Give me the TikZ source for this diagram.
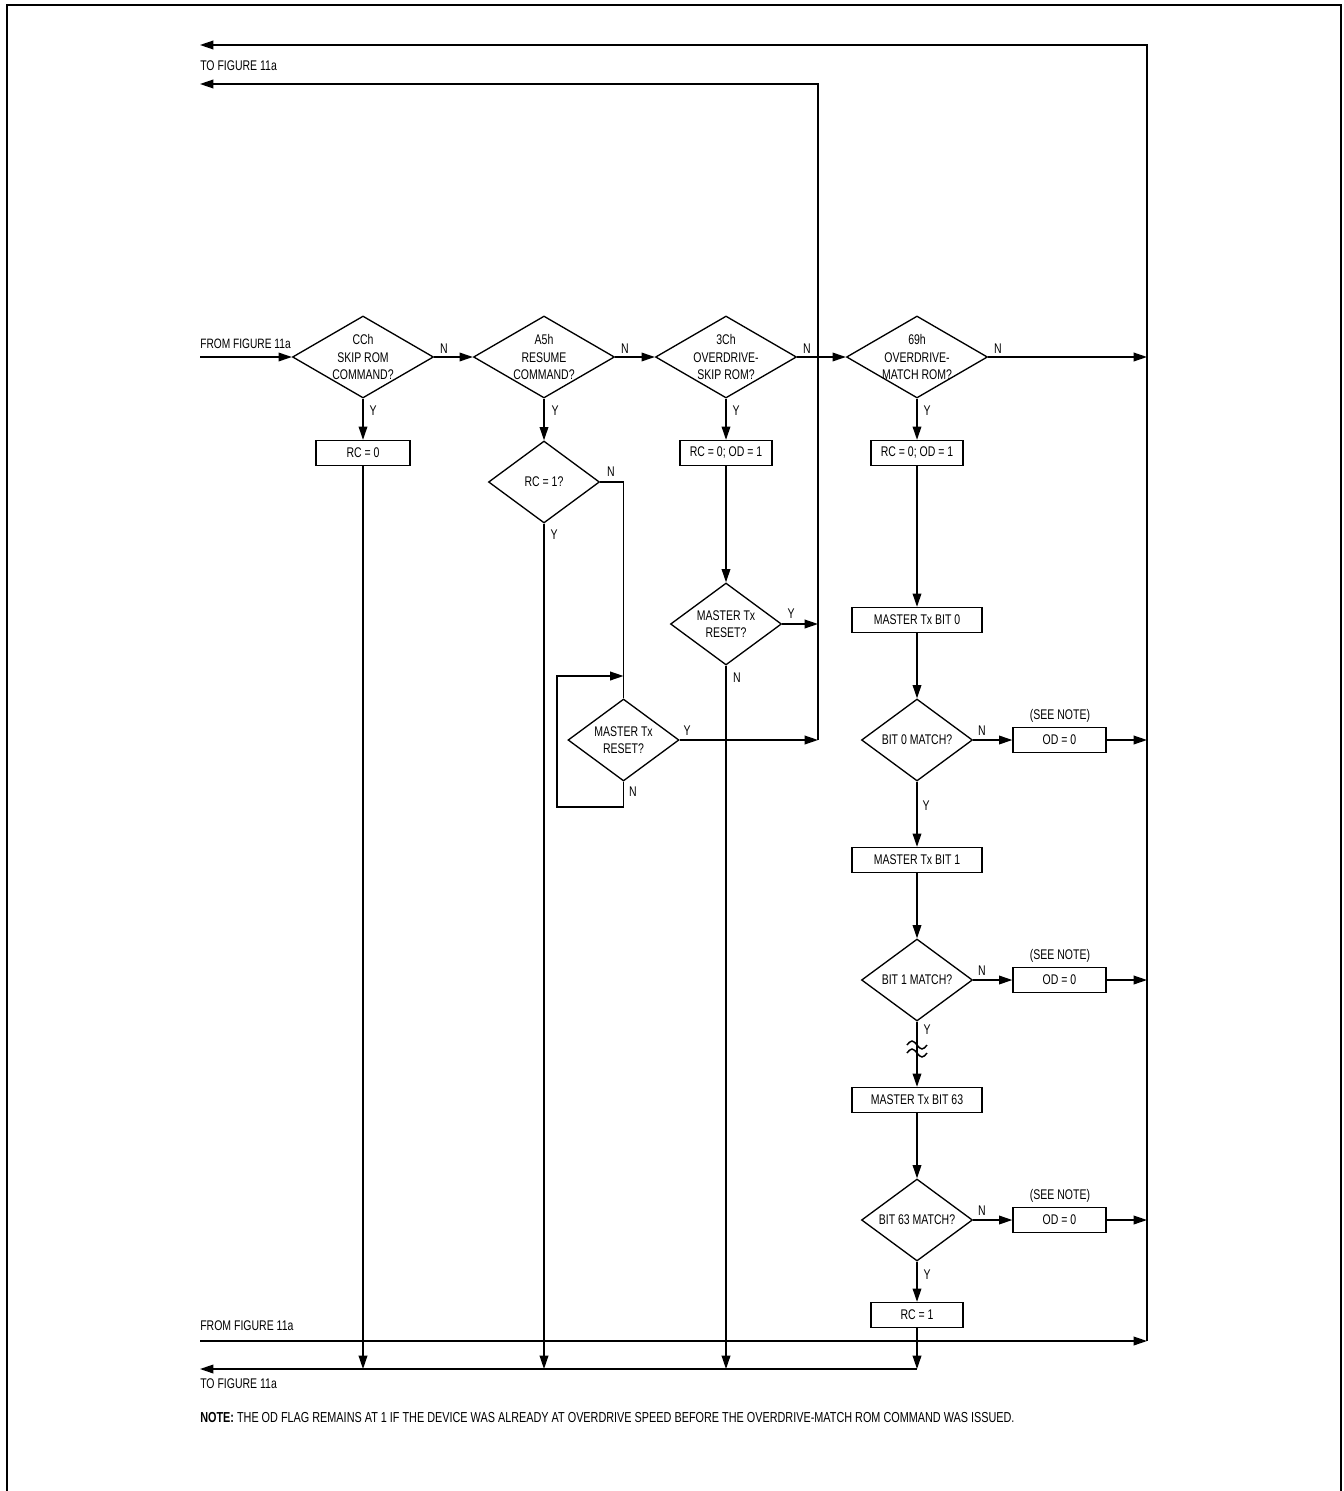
\documentclass[tikz,border=0pt]{standalone}
\usepackage{fontspec}
\setmainfont[FakeStretch=0.75]{Liberation Sans}
\usetikzlibrary{shapes.geometric,arrows.meta}
\begin{document}
\begin{tikzpicture}[x=0.75pt,y=-0.75pt,
  every node/.style={font=\fontsize{10.5}{13}\selectfont},
  ln/.style={line width=1.1pt},
  arr/.style={ln,-{Triangle[length=10pt,width=6.5pt]}},
  bigd/.style={diamond,draw,line width=1pt,minimum width=105.75pt,minimum height=61.5pt,inner sep=0pt},
  smd/.style={diamond,draw,line width=1pt,minimum width=83.25pt,minimum height=61.5pt,inner sep=0pt},
  box/.style={rectangle,draw,line width=1pt,minimum height=18.75pt,inner sep=0pt},
  lbl/.style={inner sep=0pt},
  txt/.style={inner sep=0pt,anchor=west},
]
\useasboundingbox (0,0) rectangle (1344,1491);
% frame
\draw[line width=1.6pt] (7,1491) -- (7,5) -- (1341,5) -- (1341,1491);

% top row diamonds
\node[bigd] (d1) at (363,357) {};
\node[align=center] at (d1) {CCh\\SKIP ROM\\COMMAND?};
\node[bigd] (d2) at (544,357) {};
\node[align=center] at (d2) {A5h\\RESUME\\COMMAND?};
\node[bigd] (d3) at (726,357) {};
\node[align=center] at (d3) {3Ch\\OVERDRIVE-\\SKIP ROM?};
\node[bigd] (d4) at (917,357) {};
\node[align=center] at (d4) {69h\\OVERDRIVE-\\MATCH ROM?};

% boxes row
\node[box,minimum width=70.5pt] (rc0) at (363,453) {RC = 0};
\node[smd] (rcq) at (544,482) {};
\node at (rcq) {RC = 1?};
\node[box,minimum width=69pt] (b3) at (726,453) {RC = 0; OD = 1};
\node[box,minimum width=69pt] (b4) at (917,453) {RC = 0; OD = 1};

% master tx reset diamonds
\node[smd] (m1) at (726,624) {};
\node[align=center] at (m1) {MASTER Tx\\RESET?};
\node[smd] (m2) at (623.5,740) {};
\node[align=center] at (m2) {MASTER Tx\\RESET?};

% right column
\node[box,minimum width=97.5pt] (mb0) at (917,620) {MASTER Tx BIT 0};
\node[smd] (bm0) at (917,740) {};
\node at (bm0) {BIT 0 MATCH?};
\node[box,minimum width=69.75pt] (od0) at (1059.5,740) {OD = 0};
\node[box,minimum width=97.5pt] (mb1) at (917,860) {MASTER Tx BIT 1};
\node[smd] (bm1) at (917,980) {};
\node at (bm1) {BIT 1 MATCH?};
\node[box,minimum width=69.75pt] (od1) at (1059.5,980) {OD = 0};
\node[box,minimum width=97.5pt] (mb63) at (917,1100) {MASTER Tx BIT 63};
\node[smd] (bm63) at (917,1220) {};
\node at (bm63) {BIT 63 MATCH?};
\node[box,minimum width=69.75pt] (od63) at (1059.5,1220) {OD = 0};
\node[box,minimum width=69pt] (rc1) at (917,1315) {RC = 1};

\node[lbl] at (1060,716) {(SEE NOTE)};
\node[lbl] at (1060,956) {(SEE NOTE)};
\node[lbl] at (1060,1196) {(SEE NOTE)};

% coordinates
\coordinate (fin) at (200,357);
\coordinate (rout) at (1147,357);
\coordinate (t1l) at (200,45);
\coordinate (t1r) at (1147,45);
\coordinate (t2l) at (200,84);
\coordinate (t2r) at (818,84);
\coordinate (j1) at (818,624);
\coordinate (j2) at (818,740);
\coordinate (fbl) at (200,1341);
\coordinate (fbr) at (1147,1341);
\coordinate (tbl) at (200,1369);
\coordinate (tb1) at (363,1369);
\coordinate (tb2) at (544,1369);
\coordinate (tb3) at (726,1369);
\coordinate (tb4) at (917,1369);
\coordinate (r0) at (1147,740);
\coordinate (r1) at (1147,980);
\coordinate (r63) at (1147,1220);
\coordinate (lp1) at (623.5,807);
\coordinate (lp2) at (557,807);
\coordinate (lp3) at (557,676);
\coordinate (lp4) at (623.5,676);
\coordinate (nq) at (623.5,482);

% texts
\node[txt] at (200,66) {TO FIGURE 11a};
\node[txt,font=\fontsize{10.2}{13}\selectfont] at (200,344) {FROM FIGURE 11a};
\node[txt] at (200,1326) {FROM FIGURE 11a};
\node[txt] at (200,1384) {TO FIGURE 11a};
\node[txt,font=\fontsize{10.85}{13}\selectfont] at (200,1418) {\textbf{NOTE:} THE OD FLAG REMAINS AT 1 IF THE DEVICE WAS ALREADY AT OVERDRIVE SPEED BEFORE THE OVERDRIVE-MATCH ROM COMMAND WAS ISSUED.};

% top row flow
\draw[arr] (fin) -- (d1.west);
\draw[arr] (d1.east) -- (d2.west);
\draw[arr] (d2.east) -- (d3.west);
\draw[arr] (d3.east) -- (d4.west);
\draw[arr] (d4.east) -- (rout);
\node[lbl] at (444,349) {N};
\node[lbl] at (625,349) {N};
\node[lbl] at (807,349) {N};
\node[lbl] at (998,349) {N};

% column 1
\draw[arr] (d1.south) -- (rc0.north);
\node[lbl] at (373,411) {Y};
\draw[arr] (rc0.south) -- (tb1);

% column 2
\draw[arr] (d2.south) -- (rcq.north);
\node[lbl] at (555,411) {Y};
\draw[arr] (rcq.south) -- (tb2);
\node[lbl] at (554,535) {Y};
\draw[ln] (rcq.east) -- (nq) -- (m2.north);
\node[lbl] at (611,472) {N};
\draw[arr] (m2.south) -- (lp1) -- (lp2) -- (lp3) -- (lp4);
\node[lbl] at (633,792) {N};
\draw[arr] (m2.east) -- (j2);
\node[lbl] at (687,731) {Y};

% column 3
\draw[arr] (d3.south) -- (b3.north);
\node[lbl] at (736,411) {Y};
\draw[arr] (b3.south) -- (m1.north);
\draw[arr] (m1.east) -- (j1);
\node[lbl] at (791,614) {Y};
\draw[arr] (m1.south) -- (tb3);
\node[lbl] at (737,678) {N};
\draw[arr] (j2) -- (t2r) -- (t2l);

% column 4
\draw[arr] (d4.south) -- (b4.north);
\node[lbl] at (927,411) {Y};
\draw[arr] (b4.south) -- (mb0.north);
\draw[arr] (mb0.south) -- (bm0.north);
\draw[arr] (bm0.east) -- (od0.west);
\node[lbl] at (982,731) {N};
\draw[arr] (od0.east) -- (r0);
\draw[arr] (bm0.south) -- (mb1.north);
\node[lbl] at (926,806) {Y};
\draw[arr] (mb1.south) -- (bm1.north);
\draw[arr] (bm1.east) -- (od1.west);
\node[lbl] at (982,971) {N};
\draw[arr] (od1.east) -- (r1);
\draw[arr] (bm1.south) -- (mb63.north);
\node[lbl] at (927,1030) {Y};
\draw[ln] (907,1045) sin (912,1041) cos (917,1045) sin (922,1049) cos (927,1045);
\draw[ln] (907,1053) sin (912,1049) cos (917,1053) sin (922,1057) cos (927,1053);
\draw[arr] (mb63.south) -- (bm63.north);
\draw[arr] (bm63.east) -- (od63.west);
\node[lbl] at (982,1211) {N};
\draw[arr] (od63.east) -- (r63);
\draw[arr] (bm63.south) -- (rc1.north);
\node[lbl] at (927,1275) {Y};
\draw[arr] (rc1.south) -- (tb4);

% right bus and bottom lines
\draw[arr] (fbr) -- (t1r) -- (t1l);
\draw[arr] (fbl) -- (fbr);
\draw[arr] (tb4) -- (tbl);
\end{tikzpicture}
\end{document}
